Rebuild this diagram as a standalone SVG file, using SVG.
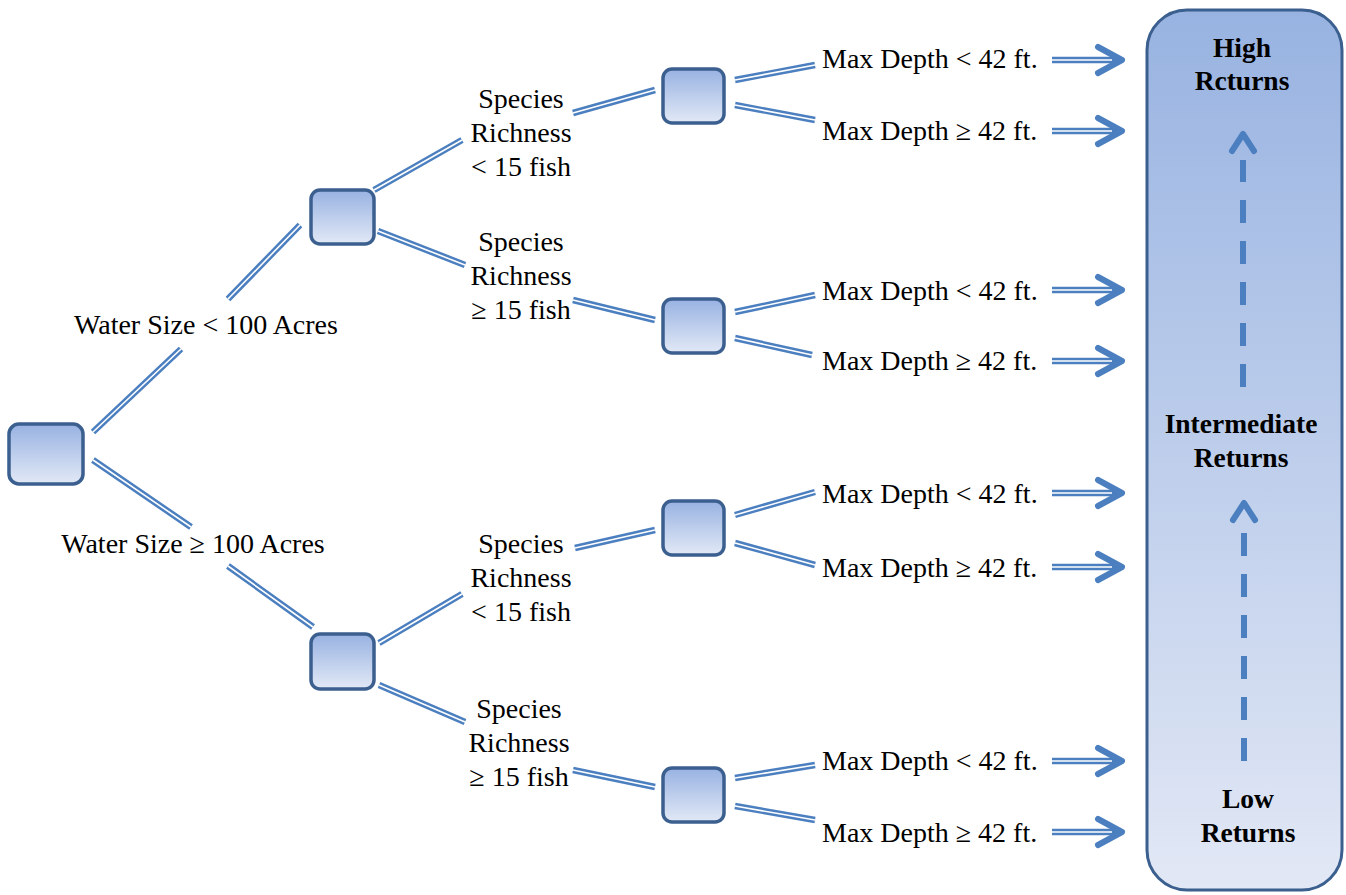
<svg xmlns="http://www.w3.org/2000/svg" width="1346" height="895" viewBox="0 0 1346 895">
<defs>
<linearGradient id="ng" x1="0" y1="0" x2="0" y2="1">
<stop offset="0" stop-color="#98b2e2"/>
<stop offset="1" stop-color="#e2e9f6"/>
</linearGradient>
<linearGradient id="bg" x1="0" y1="0" x2="0" y2="1">
<stop offset="0" stop-color="#98b3e1"/>
<stop offset="1" stop-color="#e2e8f5"/>
</linearGradient>
</defs>
<style>
.node{fill:url(#ng);stroke:#3b5f8e;stroke-width:3.5}
.dbl{stroke:#4b7fbf;stroke-width:6.5;fill:none;stroke-linecap:butt}
.dbw{stroke:#ffffff;stroke-width:1.6;fill:none}
.head{stroke:#4b7fbf;stroke-width:6;fill:none;stroke-linecap:round;stroke-linejoin:round}
.t{font-size:28px;fill:#000}
.b{font-size:27.5px;font-weight:bold;fill:#000;text-anchor:middle}
.c{text-anchor:middle}
.dash{stroke:#4b7fbf;stroke-width:6;stroke-dasharray:23 18;fill:none}
</style>

<g id="returns" font-family="Liberation Serif, DejaVu Serif, serif">
<rect x="1147" y="10" width="195" height="880" rx="40" fill="url(#bg)" stroke="#3b5f8e" stroke-width="3"/>
<text class="b" x="1242" y="57">High</text>
<text class="b" x="1242" y="90">Rcturns</text>
<text class="b" x="1241" y="433">Intermediate</text>
<text class="b" x="1241" y="467">Returns</text>
<text class="b" x="1248" y="808">Low</text>
<text class="b" x="1248" y="842">Returns</text>
<path class="dash" d="M1243,387 V160"/>
<path class="head" d="M1232,151 L1243,134 L1254,151"/>
<path class="dash" d="M1244,761 V532"/>
<path class="head" d="M1233,520 L1244,503 L1255,520"/>
</g>

<g id="root"><rect class="node" x="9" y="424" width="74" height="60" rx="10"/></g>
<g id="n1"><rect class="node" x="311" y="190" width="63" height="54" rx="9"/></g>
<g id="n2"><rect class="node" x="311" y="634" width="63" height="55" rx="9"/></g>
<g id="n3"><rect class="node" x="663" y="69" width="61" height="54" rx="9"/></g>
<g id="n4"><rect class="node" x="663" y="299" width="61" height="54" rx="9"/></g>
<g id="n5"><rect class="node" x="663" y="501" width="61" height="54" rx="9"/></g>
<g id="n6"><rect class="node" x="663" y="768" width="61" height="54" rx="9"/></g>

<g id="labels" font-family="Liberation Serif, DejaVu Serif, serif">
<text class="t" x="206" y="334" text-anchor="middle">Water Size &lt; 100 Acres</text>
<text class="t" x="193" y="553" text-anchor="middle">Water Size ≥ 100 Acres</text>
<text class="t c" x="521" y="108">Species</text>
<text class="t c" x="521" y="142">Richness</text>
<text class="t c" x="521" y="176">&lt; 15 fish</text>
<text class="t c" x="521" y="251">Species</text>
<text class="t c" x="521" y="285">Richness</text>
<text class="t c" x="521" y="319">≥ 15 fish</text>
<text class="t c" x="521" y="553">Species</text>
<text class="t c" x="521" y="587">Richness</text>
<text class="t c" x="521" y="621">&lt; 15 fish</text>
<text class="t c" x="519" y="718">Species</text>
<text class="t c" x="519" y="752">Richness</text>
<text class="t c" x="519" y="786">≥ 15 fish</text>
<text class="t" x="822" y="68">Max Depth &lt; 42 ft.</text>
<text class="t" x="822" y="140">Max Depth ≥ 42 ft.</text>
<text class="t" x="822" y="300">Max Depth &lt; 42 ft.</text>
<text class="t" x="822" y="370">Max Depth ≥ 42 ft.</text>
<text class="t" x="822" y="503">Max Depth &lt; 42 ft.</text>
<text class="t" x="822" y="577">Max Depth ≥ 42 ft.</text>
<text class="t" x="822" y="770">Max Depth &lt; 42 ft.</text>
<text class="t" x="822" y="842">Max Depth ≥ 42 ft.</text>
</g>

<g id="connectors">
<g class="dbl">
<path d="M93,432 L181,349 M228,299 L300,225"/>
<path d="M93,460 L191,527 M228,566 L313,627"/>
<path d="M374,190 L462,140 M573,113 L655,90"/>
<path d="M378,231 L465,265 M573,300 L655,320"/>
<path d="M379,643 L462,594 M575,548 L655,530"/>
<path d="M379,685 L465,722 M573,770 L655,787"/>
<path d="M735,80 L815,65 M735,105 L815,120"/>
<path d="M735,312 L815,295 M735,338 L812,355"/>
<path d="M735,515 L815,492 M735,543 L815,565"/>
<path d="M735,778 L815,765 M735,806 L815,820"/>
<path d="M1052,60 H1118 M1052,131 H1118 M1052,290 H1118 M1052,361 H1118 M1052,493 H1118 M1052,567 H1118 M1052,761 H1118 M1052,832 H1118"/>
</g>
<g class="dbw">
<path d="M93,432 L181,349 M228,299 L300,225"/>
<path d="M93,460 L191,527 M228,566 L313,627"/>
<path d="M374,190 L462,140 M573,113 L655,90"/>
<path d="M378,231 L465,265 M573,300 L655,320"/>
<path d="M379,643 L462,594 M575,548 L655,530"/>
<path d="M379,685 L465,722 M573,770 L655,787"/>
<path d="M735,80 L815,65 M735,105 L815,120"/>
<path d="M735,312 L815,295 M735,338 L812,355"/>
<path d="M735,515 L815,492 M735,543 L815,565"/>
<path d="M735,778 L815,765 M735,806 L815,820"/>
<path d="M1052,60 H1112 M1052,131 H1112 M1052,290 H1112 M1052,361 H1112 M1052,493 H1112 M1052,567 H1112 M1052,761 H1112 M1052,832 H1112"/>
</g>
<g class="head">
<path d="M1098,47 L1122,60 L1098,73"/>
<path d="M1098,118 L1122,131 L1098,144"/>
<path d="M1098,277 L1122,290 L1098,303"/>
<path d="M1098,348 L1122,361 L1098,374"/>
<path d="M1098,480 L1122,493 L1098,506"/>
<path d="M1098,554 L1122,567 L1098,580"/>
<path d="M1098,748 L1122,761 L1098,774"/>
<path d="M1098,819 L1122,832 L1098,845"/>
</g>
</g>
</svg>
